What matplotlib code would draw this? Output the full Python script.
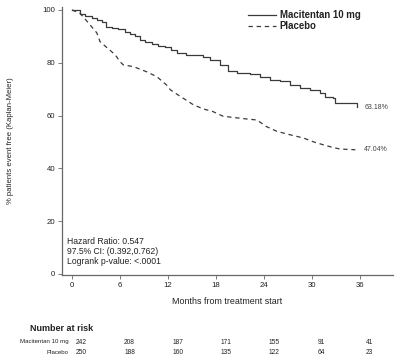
import matplotlib
matplotlib.use("Agg")
import matplotlib.pyplot as plt

plt.rcParams['font.family'] = ['Liberation Sans', 'DejaVu Sans']

# ---- data ----
mac_t = [0, 1, 1.6, 2.5, 3.1, 3.7, 4.3, 5, 5.75, 6.6, 7.25, 7.9, 8.5, 9.1, 10, 10.8,
         11.6, 12.4, 13.1, 14.3, 16.4, 17.25, 18.5, 19.5, 20.6, 22.25, 23.5, 24.75,
         26, 27.25, 28.5, 29.75, 31, 31.6, 32.6, 32.9, 35.6]
mac_s = [100, 98.4, 97.7, 96.8, 96.2, 95.6, 93.7, 93.1, 92.8, 91.8, 90.8, 90, 88.6,
         87.8, 87, 86.5, 86.1, 84.8, 83.6, 83, 82.3, 81, 79.2, 77, 76, 75.8, 74.7,
         73.5, 72.9, 71.6, 70.3, 69.7, 68.4, 67.2, 66.6, 64.7, 63.18]

pbo_t = [0, 1, 1.9, 3.1, 3.5, 4.4, 5.4, 6.0, 6.4, 7.7, 9.3, 10.6, 11.8, 12.3, 13.5,
         15.2, 16.4, 17.6, 18.9, 21.8, 23.1, 24.3, 25.6, 27.25, 28.9, 30.1, 31.4,
         32.6, 33.5, 35.4]
pbo_s = [100, 98.7, 95.6, 91.3, 88.0, 85.6, 83.0, 80.4, 79.2, 78.5, 76.6, 74.7, 71.6,
         69.7, 67.3, 64.0, 62.5, 61.5, 59.7, 58.7, 58.3, 55.8, 54, 52.7, 51.5, 50.1,
         48.9, 47.9, 47.3, 47.04]

series_names = ["Macitentan 10 mg", "Placebo"]
final_labels = ["63.18%", "47.04%"]
x_ticks = [0, 6, 12, 18, 24, 30, 36]
y_ticks = [0, 20, 40, 60, 80, 100]
risk_mac = [242, 208, 187, 171, 155, 91, 41]
risk_pbo = [250, 188, 160, 135, 122, 64, 23]
stats_text = ["Hazard Ratio: 0.547", "97.5% CI: (0.392,0.762)", "Logrank p-value: <.0001"]

line_col = '#3a3a3a'
text_col = '#222222'
axis_col = '#666666'

fig = plt.figure(figsize=(4.0, 3.6), dpi=100)
ax = fig.add_axes([62/400, 1-275/360, 331/400, 268/360])

ax.step(mac_t, mac_s, where='post', color=line_col, lw=0.9, label=series_names[0])
ax.plot(pbo_t, pbo_s, color=line_col, lw=0.9, linestyle=(0, (3.5, 3)), label=series_names[1])

ax.text(36.5, mac_s[-1], final_labels[0], fontsize=5, color='#444444', va='center', ha='left')
ax.text(36.5, pbo_s[-1], final_labels[1], fontsize=5, color='#444444', va='center', ha='left')

ax.set_xlim(-1.25, 40.1)
ax.set_ylim(-0.4, 101.1)
ax.set_xticks(x_ticks)
ax.set_yticks(y_ticks)
ax.tick_params(axis='both', labelsize=5.6, length=3, width=0.6, color=axis_col,
               labelcolor=text_col, pad=2)
for s in ['top', 'right']:
    ax.spines[s].set_visible(False)
for s in ['left', 'bottom']:
    ax.spines[s].set_color(axis_col)
    ax.spines[s].set_linewidth(0.9)

ax.set_ylabel("% patients event free (Kaplan-Meier)", fontsize=5.6, color=text_col)
ax.yaxis.set_label_coords(-0.146, 0.5)
ax.set_xlabel("Months from treatment start", fontsize=6.4, color=text_col, labelpad=6)

ax.text(0.015, 0.035, "\n".join(stats_text), transform=ax.transAxes, fontsize=6.2,
        color=text_col, ha='left', va='bottom', linespacing=1.1)

leg = ax.legend(loc='upper left', bbox_to_anchor=(0.562, 0.989), frameon=False,
                prop={'weight': 'bold', 'size': 6.9}, handlelength=2.9,
                handletextpad=0.4, labelspacing=0.1, borderaxespad=0, borderpad=0)
for t in leg.get_texts():
    t.set_color(text_col)

tr = ax.get_xaxis_transform()
ax.text(-1.3, -0.198, "Number at risk", transform=tr, fontsize=6.5, fontweight='bold',
        color=text_col, ha='center', va='center')
ax.text(-0.4, -0.25, series_names[0], transform=tr, fontsize=4.4, color=text_col,
        ha='right', va='center')
ax.text(-0.4, -0.291, series_names[1], transform=tr, fontsize=4.4, color=text_col,
        ha='right', va='center')
for xm, a, b in zip(x_ticks, risk_mac, risk_pbo):
    ax.text(xm + 1.2, -0.25, str(a), transform=tr, fontsize=4.8, color=text_col,
            ha='center', va='center')
    ax.text(xm + 1.2, -0.291, str(b), transform=tr, fontsize=4.8, color=text_col,
            ha='center', va='center')

fig.savefig("out.png", dpi=100, facecolor='white')
